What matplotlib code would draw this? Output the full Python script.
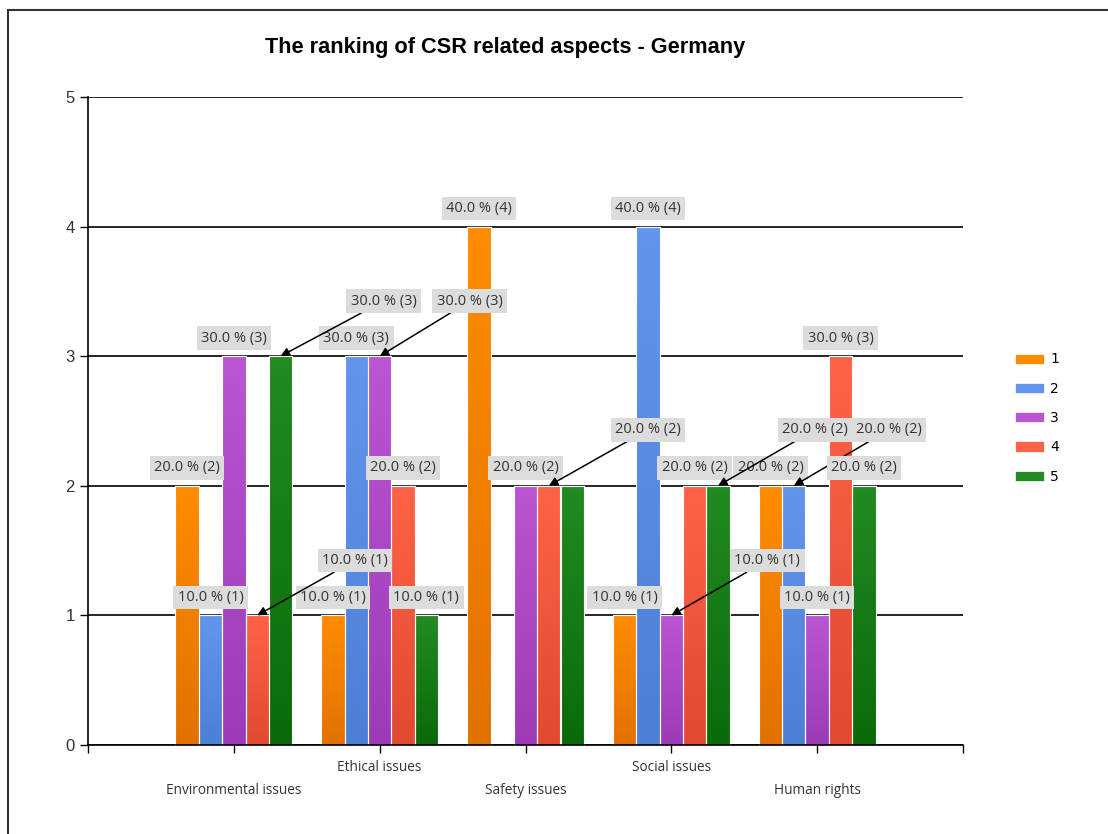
import matplotlib
matplotlib.use('Agg')
import matplotlib.pyplot as plt
import numpy as np
from matplotlib.colors import LinearSegmentedColormap
from matplotlib.patches import Rectangle

title = 'The ranking of CSR related aspects - Germany'
categories = ['Environmental issues', 'Ethical issues', 'Safety issues',
              'Social issues', 'Human rights']
ranks = ['1', '2', '3', '4', '5']

# answers per rank for each aspect (10 respondents)
rank_1 = [2, 1, 4, 1, 2]
rank_2 = [1, 3, 0, 4, 2]
rank_3 = [3, 3, 2, 1, 1]
rank_4 = [1, 2, 2, 2, 3]
rank_5 = [3, 1, 2, 2, 2]
respondents = 10

top_colors = ['#ff8c00', '#6495ed', '#ba55d3', '#ff6347', '#228b22']
bottom_colors = ['#e27200', '#4d7fd6', '#9c3bb8', '#e04a30', '#0a6a0a']

# labels pushed aside with an arrow (rank idx, aspect idx) -> pixel offset
moved = {(3, 0): (98, 55), (4, 0): (103, 55), (2, 1): (90, 55),
         (3, 2): (99, 56), (2, 3): (96, 55), (4, 3): (97, 56),
         (1, 4): (95, 56)}
hidden = {(4, 2)}

series = [rank_1, rank_2, rank_3, rank_4, rank_5]

fig = plt.figure(figsize=(11.08, 8.34), dpi=100)
ax = fig.add_axes([88 / 1108, 1 - 745 / 834, 875 / 1108, 648 / 834])

x = np.arange(1, len(categories) + 1)
width = 0.16
grad = np.linspace(0, 1, 64).reshape(-1, 1)
box = dict(boxstyle='square,pad=0.3', fc='#dcdcdc', ec='none')

z = 5
for i, vals in enumerate(series):
    pos = x + (i - 2) * width
    bars = ax.bar(pos, vals, width, color=top_colors[i], edgecolor='white',
                  linewidth=0.8, zorder=2, label=ranks[i])
    cmap = LinearSegmentedColormap.from_list('g%d' % i, [bottom_colors[i], top_colors[i]])
    for b, v in zip(bars, vals):
        if v <= 0:
            continue
        im = ax.imshow(grad, extent=[b.get_x(), b.get_x() + width, 0, v],
                       origin='lower', cmap=cmap, aspect='auto', zorder=2.1)
        im.set_clip_path(b)
    ax.bar(pos, vals, width, fill=False, edgecolor='white', linewidth=0.8, zorder=2.2)

    for j, v in enumerate(vals):
        if v <= 0 or (i, j) in hidden:
            continue
        txt = '%.1f %% (%d)' % (100.0 * v / respondents, v)
        if (i, j) in moved:
            dx, dy = moved[(i, j)]
            ax.annotate(txt, xy=(pos[j], v), xytext=(dx * 0.72, dy * 0.72),
                        textcoords='offset points', ha='center', va='center',
                        fontsize=10.5, family='Open Sans', color='#333333', bbox=box,
                        arrowprops=dict(arrowstyle='-|>', color='black', lw=1.1,
                                        mutation_scale=13, shrinkA=0, shrinkB=0),
                        zorder=z)
        else:
            ax.annotate(txt, xy=(pos[j], v), xytext=(0, 18 * 0.72),
                        textcoords='offset points', ha='center', va='center',
                        fontsize=10.5, family='Open Sans', color='#333333', bbox=box,
                        zorder=z)
        z += 0.1

ax.set_xlim(0, 6)
ax.set_ylim(0, 5)
ax.set_axisbelow(True)
ax.yaxis.grid(True, color='black', linewidth=1.2)
ax.spines['top'].set_visible(False)
ax.spines['right'].set_visible(False)
ax.spines['left'].set_linewidth(1.2)
ax.spines['bottom'].set_linewidth(1.2)

ax.set_yticks(range(6))
ax.tick_params(axis='y', length=6, width=1, labelsize=12, labelcolor='#333333')
for t in ax.get_yticklabels():
    t.set_family('Liberation Sans')

ax.set_xticks(range(7))
ax.set_xticklabels([''] + categories + [''], fontsize=9.8, family='Open Sans', color='#333333')
ax.tick_params(axis='x', length=6, width=1)
for k, tick in enumerate(ax.xaxis.get_major_ticks()):
    tick.set_pad(4.5 if k % 2 == 0 else 21.5)

fig.text(505 / 1108, 1 - 48 / 834, title, ha='center', va='center',
         fontsize=15.7, fontweight='bold', family='Liberation Sans')

handles = [Rectangle((0, 0), 1, 1, fc=c, ec='white', lw=0.5) for c in top_colors]
fig.legend(handles, ranks, loc='center left', bbox_to_anchor=(1015 / 1108, 1 - 418 / 834),
           frameon=False, fontsize=10, handlelength=2.1, handleheight=0.75,
           handletextpad=0.45, labelspacing=1.1, borderpad=0, borderaxespad=0)

fig.add_artist(Rectangle((7.5 / 1108, -0.05), 1.1, 1.05 - 9.5 / 834, fill=False,
                         ec='#333333', lw=1.5, transform=fig.transFigure))

fig.savefig('out.png', dpi=100)
